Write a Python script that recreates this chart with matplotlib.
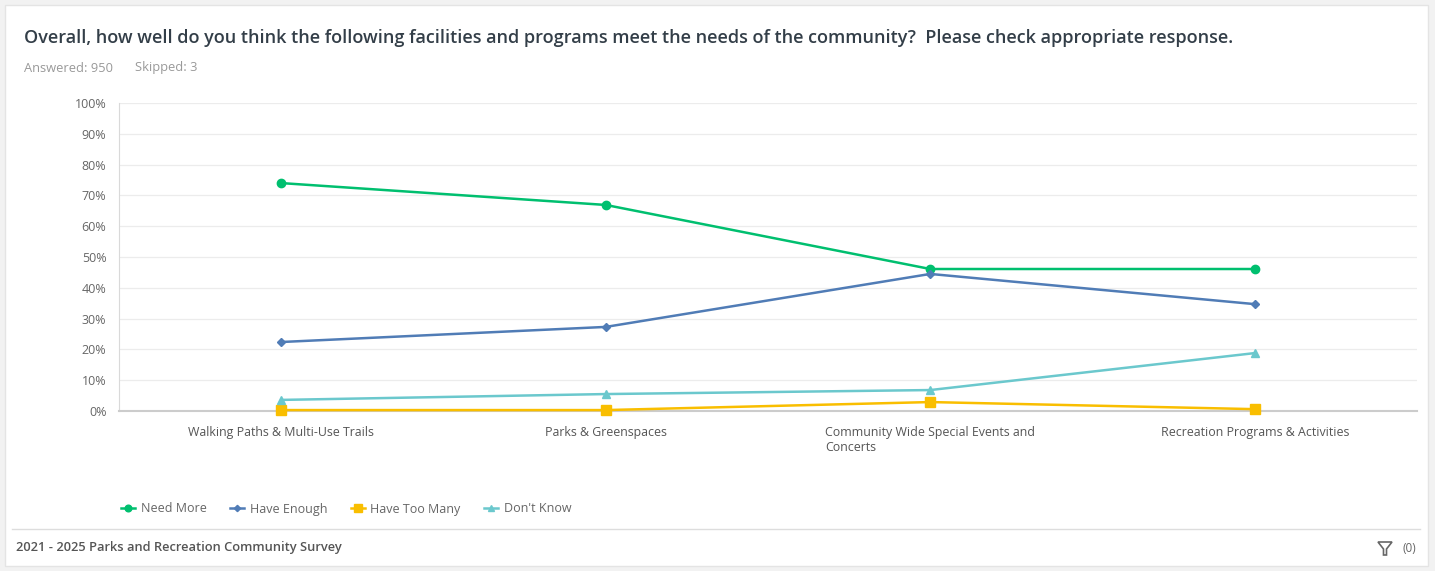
import numpy as np
import matplotlib.pyplot as plt
from matplotlib.patches import Rectangle, Polygon

categories = ['Walking Paths & Multi-Use Trails', 'Parks & Greenspaces',
              'Community Wide Special Events and\nConcerts',
              'Recreation Programs & Activities']
need_more = [74.0, 66.9, 46.1, 46.1]
have_enough = [22.4, 27.3, 44.5, 34.7]
have_too_many = [0.3, 0.3, 2.9, 0.6]
dont_know = [3.6, 5.5, 6.8, 18.8]
series_names = ['Need More', 'Have Enough', 'Have Too Many', "Don't Know"]
y_ticks = [0, 10, 20, 30, 40, 50, 60, 70, 80, 90, 100]

colors = ['#00BF6F', '#507CB6', '#F9BE00', '#6BC8CD']
markers = ['o', 'D', 's', '^']
msizes = [6, 4, 7, 6]

plt.rcParams['font.family'] = ['Open Sans', 'DejaVu Sans']

W, H = 1435, 571
fig = plt.figure(figsize=(W / 100, H / 100), dpi=100, facecolor='#f2f2f2')

# white card
fig.patches.append(Rectangle((5 / W, 5 / H), 1423 / W, 561 / H, transform=fig.transFigure,
                             facecolor='white', edgecolor='#e4e4e4', lw=1, zorder=-10))

ax = fig.add_axes([119 / W, (H - 411) / H, (1417 - 119) / W, (411 - 103) / H])
ax.set_zorder(2)
ax.set_facecolor('white')

x = np.arange(len(categories))
all_series = [need_more, have_enough, have_too_many, dont_know]
handles = []
for vals, name, c, m, ms in zip(all_series, series_names, colors, markers, msizes):
    h, = ax.plot(x, vals, color=c, marker=m, markersize=ms, lw=1.8, label=name,
                 clip_on=False, zorder=3)
    handles.append(h)

ax.set_xlim(-0.5, 3.5)
ax.set_ylim(0, 100)
ax.set_yticks(y_ticks)
ax.set_yticklabels([f'{v}%' for v in y_ticks], fontsize=9, color='#666666')
ax.set_xticks(x)
ax.set_xticklabels(categories, fontsize=8.9, color='#555555', multialignment='left')
ax.tick_params(axis='both', length=0)
ax.tick_params(axis='y', pad=9)
ax.tick_params(axis='x', pad=11)
ax.grid(axis='y', color='#ececec', lw=0.9)
ax.set_axisbelow(True)
for s in ['top', 'right']:
    ax.spines[s].set_visible(False)
ax.spines['left'].set_color('#d9d9d9')
ax.spines['bottom'].set_color('#cccccc')
ax.spines['bottom'].set_linewidth(1.5)

fig.text(24 / W, 1 - 38 / H, 'Overall, how well do you think the following facilities and programs meet the needs of the community?  Please check appropriate response.',
         fontsize=13, fontweight='semibold', color='#333e48', va='center', ha='left')
fig.text(24 / W, 1 - 68 / H, 'Answered: 950', fontsize=9.3, color='#999999', va='center')
fig.text(135 / W, 1 - 68 / H, 'Skipped: 3', fontsize=9.3, color='#999999', va='center')

leg = fig.legend(handles=handles, loc='center left', bbox_to_anchor=(110 / W, 1 - 509 / H),
                 ncol=4, frameon=False, fontsize=9, handlelength=1.1, handletextpad=0.45,
                 columnspacing=1.9, markerscale=0.8)
for t in leg.get_texts():
    t.set_color('#666666')

fig.add_artist(plt.Line2D([12 / W, 1420 / W], [1 - 529 / H, 1 - 529 / H],
                          transform=fig.transFigure, color='#dddddd', lw=1))
fig.text(16 / W, 1 - 547 / H, '2021 - 2025 Parks and Recreation Community Survey',
         fontsize=9.3, fontweight='semibold', color='#555555', va='center')
fig.text(1416 / W, 1 - 548 / H, '(0)', fontsize=8.5, color='#666666', va='center', ha='right')
# filter icon (funnel)
fx, fy = 1385, 548
funnel = [(fx - 7, fy - 6), (fx + 7, fy - 6), (fx + 1.5, fy + 1), (fx + 1.5, fy + 7),
          (fx - 1.5, fy + 7), (fx - 1.5, fy + 1)]
fig.patches.append(Polygon([(px / W, 1 - py / H) for px, py in funnel], closed=True,
                           transform=fig.transFigure, facecolor='none', edgecolor='#666666', lw=1.2))

fig.savefig('out.png', dpi=100, facecolor=fig.get_facecolor())
